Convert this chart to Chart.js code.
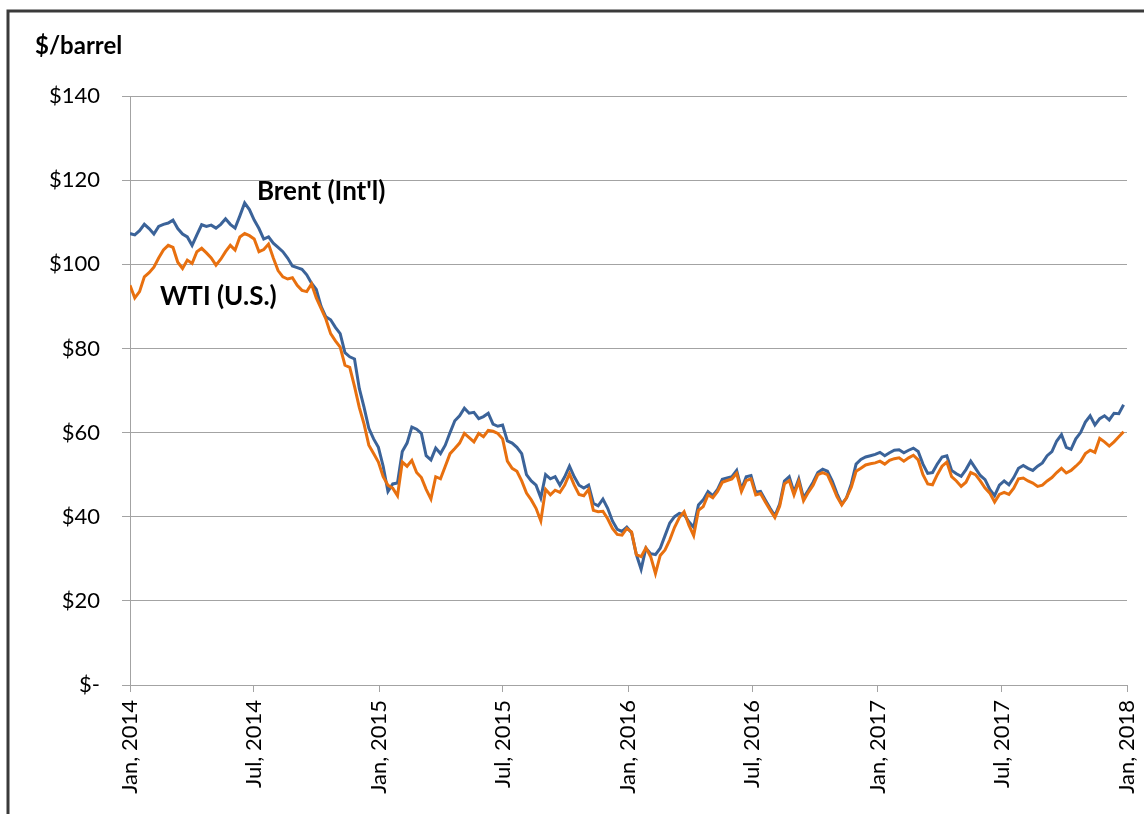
<!DOCTYPE html>
<html>
<head>
<meta charset="utf-8">
<script src="https://cdn.jsdelivr.net/npm/chart.js@4"></script>
<style>
  body { margin: 0; background: #fff; }
  #wrap { width: 1144px; height: 814px; }
</style>
</head>
<body>
<div id="wrap"><canvas id="oilChart" width="1144" height="814"></canvas></div>
<script>
// weekly prices, first week of Jan 2014 to end of Dec 2017 ($/barrel)
const brent = [
107.3,107,108,109.5,108.5,107.2,109,109.5,109.8,110.5,
108.5,107.2,106.5,104.5,107,109.4,109,109.3,108.6,109.5,
110.8,109.5,108.6,111.5,114.6,113,110.5,108.5,106,106.5,
105,104,103,101.5,99.6,99.2,98.8,97.5,95.5,94,
90,87.5,86.8,85,83.5,79,78,77.5,70.5,66,
61,58.5,56.5,52,46,47.8,48,55.5,57.5,61.3,
60.8,59.8,54.5,53.5,56.3,55,57,60,62.8,64,
65.8,64.6,64.8,63.3,63.8,64.6,62,61.5,61.8,58,
57.5,56.5,55,50,48.5,47.5,44.5,50,49,49.5,
47.5,49.5,52,49.5,47.5,46.8,47.5,43.2,42.6,44.2,
42,39,37,36.5,37.5,36.2,31,27.5,32.5,31.2,
31,32.5,35.5,38.5,40,40.8,40.5,38.8,37.5,42.8,
44,46,45,46.5,48.9,49.2,49.5,51,46.5,49.5,
49.8,45.8,46,44,42,40.2,43,48.5,49.5,45.8,
49,44.5,46.3,48.2,50.5,51.3,50.8,48.5,45.5,43,
44.5,47.8,52.5,53.6,54.2,54.5,54.8,55.3,54.5,55.2,
55.8,55.9,55.2,55.8,56.3,55.5,52.5,50.3,50.5,52.5,
54.2,54.5,51,50.2,49.6,51.2,53.2,51.5,49.8,48.8,
46.5,45,47.5,48.5,47.6,49.3,51.5,52.2,51.5,51,
52,52.8,54.5,55.5,58,59.5,56.5,56,58.5,60,
62.5,64,61.8,63.3,64,63,64.6,64.5,66.6
];

const wti = [
95,92,93.5,97,98,99.3,101.5,103.4,104.5,104,
100.5,99,101,100.2,103,103.8,102.7,101.5,99.8,101.2,
103,104.5,103.4,106.5,107.3,106.8,106,103,103.5,104.8,
101.5,98.5,97,96.5,96.8,95,93.8,93.5,95.3,92,
89.5,87,83.5,81.8,80.3,76,75.5,71,66,62,
57,55,53,49.5,47.5,46.8,45,53,52,53.4,
50.5,49.3,46.5,44.2,49.5,49,52,55,56.2,57.5,
59.8,58.8,57.8,59.8,59,60.5,60.3,59.8,58.5,53.2,
51.5,50.8,48.5,45.6,44,42,39,46.5,45.2,46.3,
45.8,47.5,50.2,47.5,45.3,45,46.5,41.5,41.2,41.3,
39.5,37.2,35.8,35.6,37.2,36.4,31,30.5,32.6,30.5,
26.5,30.8,32.1,34.5,37.5,39.8,41.2,38,35.5,41.5,
42.4,45.2,44.5,46,48.2,48.6,49,50.3,46,48.6,
49,45.2,45.5,43.5,41.6,39.8,42.5,47.8,48.6,45.2,
48.4,43.8,45.8,47.5,50,50.5,50,47.5,44.8,42.8,
44.5,47,50.8,51.5,52.3,52.6,52.8,53.2,52.5,53.4,
53.8,54,53.2,54,54.6,53.5,50,47.8,47.6,50,
52,53,49.5,48.5,47.2,48.2,50.5,50,48.5,46.8,
45.6,43.5,45.3,45.8,45.3,46.8,49,49.2,48.5,48,
47.2,47.5,48.5,49.3,50.5,51.5,50.4,51,52,53.1,
55,55.8,55.3,58.6,57.8,56.8,57.8,59,60.2
];

// x axis ticks (days since Jan 1, 2014)
const tickDays = [0, 181, 365, 546, 730, 912, 1096, 1277, 1461];
const tickLabels = ["Jan, 2014", "Jul, 2014", "Jan, 2015", "Jul, 2015", "Jan, 2016",
                    "Jul, 2016", "Jan, 2017", "Jul, 2017", "Jan, 2018"];

const gridGray = "#a3a3a3";
const fontFam = "Lato, 'Open Sans', sans-serif";

function toPoints(values) {
    return values.map((v, i) => ({ x: i * 7, y: v }));
}

// frame, axis title and series labels
const extras = {
    id: "extras",
    afterDraw(chart) {
        const ctx = chart.ctx;
        const xs = chart.scales.x;
        const ys = chart.scales.y;
        ctx.save();

        ctx.strokeStyle = "#3a3a3a";
        ctx.lineWidth = 3;
        ctx.beginPath();
        ctx.moveTo(8, chart.height + 5);
        ctx.lineTo(8, 11);
        ctx.lineTo(chart.width + 5, 11);
        ctx.stroke();

        ctx.fillStyle = "#000";
        ctx.textBaseline = "middle";
        ctx.textAlign = "left";
        ctx.font = "bold 24px " + fontFam;
        ctx.fillText("$/barrel", 35, 46);

        ctx.font = "bold 26px " + fontFam;
        ctx.fillText("Brent (Int'l)", xs.getPixelForValue(186), ys.getPixelForValue(117.2));
        ctx.fillText("WTI (U.S.)", xs.getPixelForValue(44), ys.getPixelForValue(92.2));

        ctx.restore();
    }
};

new Chart(document.getElementById("oilChart"), {
    type: "line",
    data: {
        datasets: [
            {
                label: "WTI (U.S.)",
                data: toPoints(wti),
                borderColor: "#e8700f",
                borderWidth: 3,
                pointRadius: 0,
                order: 0
            },
            {
                label: "Brent (Int'l)",
                data: toPoints(brent),
                borderColor: "#3b6399",
                borderWidth: 3,
                pointRadius: 0,
                order: 1
            }
        ]
    },
    options: {
        responsive: false,
        animation: false,
        layout: { padding: { top: 96, right: 17, left: 0, bottom: 0 } },
        plugins: {
            legend: { display: false },
            tooltip: { enabled: false }
        },
        scales: {
            x: {
                type: "linear",
                min: 0,
                max: 1461,
                afterBuildTicks: scale => {
                    scale.ticks = tickDays.map(d => ({ value: d }));
                },
                afterFit: scale => {
                    scale.height = 129;
                    scale.paddingLeft = 0;
                    scale.paddingRight = 0;
                },
                border: { color: gridGray, width: 1 },
                grid: { drawOnChartArea: false, drawTicks: true, tickLength: 7, color: gridGray },
                ticks: {
                    autoSkip: false,
                    minRotation: 90,
                    maxRotation: 90,
                    padding: 8,
                    color: "#000",
                    font: { family: fontFam, size: 22 },
                    callback: value => tickLabels[tickDays.indexOf(value)]
                }
            },
            y: {
                min: 0,
                max: 140,
                afterFit: scale => { scale.width = 130; },
                border: { color: gridGray, width: 1 },
                grid: { color: gridGray, tickLength: 8 },
                ticks: {
                    stepSize: 20,
                    padding: 22,
                    color: "#000",
                    font: { family: fontFam, size: 22 },
                    callback: v => v === 0 ? "$-" : "$" + v
                }
            }
        }
    },
    plugins: [extras]
});
</script>
</body>
</html>
